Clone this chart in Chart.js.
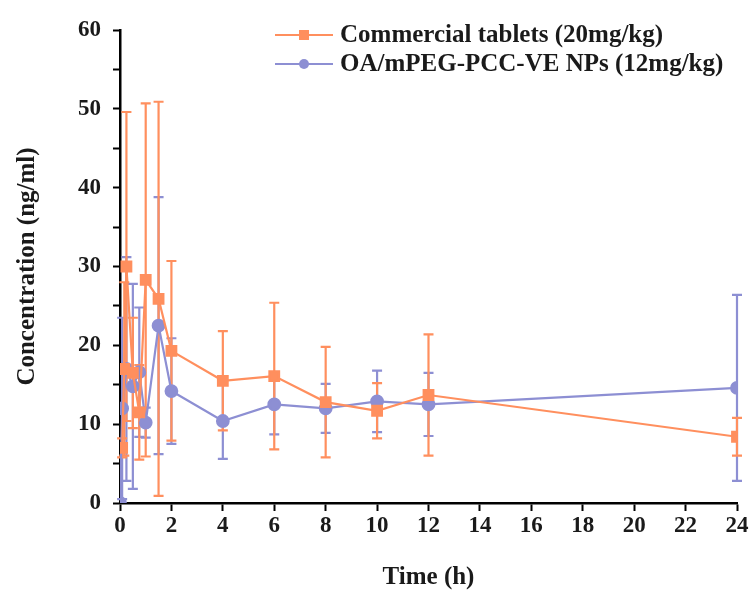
<!DOCTYPE html>
<html>
<head>
<meta charset="utf-8">
<title>Concentration vs time</title>
<script src="https://cdn.jsdelivr.net/npm/chart.js@4.4.0/dist/chart.umd.min.js"></script>
<style>
  html, body { margin: 0; padding: 0; background: #fff; }
  #wrap { width: 756px; height: 590px; }
</style>
</head>
<body>
<div id="wrap"><canvas id="myChart" width="756" height="590"></canvas></div>
<script>
// data (time in h, concentration in ng/ml, +/- SD)
const tabletLabel = 'Commercial tablets (20mg/kg)';
const tabletTime = [0.083, 0.167, 0.25, 0.5, 0.75, 1, 1.5, 2, 4, 6, 8, 10, 12, 24];
const tabletMean = [7.0, 17.0, 30.0, 16.5, 11.5, 28.3, 25.9, 19.3, 15.5, 16.1, 12.8, 11.7, 13.7, 8.4];
const tabletSD   = [1.2, 11.0, 19.6, 7.0, 6.0, 22.4, 25.0, 11.4, 6.3, 9.3, 7.0, 3.5, 7.7, 2.4];

const npLabel = 'OA/mPEG-PCC-VE NPs (12mg/kg)';
const npTime = [0, 0.083, 0.25, 0.5, 0.75, 1, 1.5, 2, 4, 6, 8, 10, 12, 24];
const npMean = [0, 12.0, 17.0, 14.8, 16.6, 10.2, 22.5, 14.2, 10.4, 12.5, 12.0, 12.9, 12.5, 14.6];
const npSD   = [0, 11.5, 14.2, 13.0, 8.2, 1.9, 16.3, 6.7, 4.8, 3.8, 3.1, 3.9, 4.0, 11.8];

const orange = '#ff8f5e';
const purple = '#8d8fd3';
const fontFam = "'Liberation Serif', 'Times New Roman', serif";

function pairs(t, v) {
  let out = [];
  for (let i = 0; i < t.length; i++) out.push({ x: t[i], y: v[i] });
  return out;
}

// error bars, drawn under the lines and markers
const errorBars = {
  id: 'errorBars',
  beforeDatasetsDraw(chart) {
    const ctx = chart.ctx;
    const xs = chart.scales.x, ys = chart.scales.y;
    for (let d = chart.data.datasets.length - 1; d >= 0; d--) {
      const ds = chart.data.datasets[d];
      ctx.save();
      ctx.strokeStyle = ds.borderColor;
      ctx.lineWidth = 2.2;
      ds.data.forEach((p, i) => {
        const sd = ds.sd[i];
        if (!sd) return;
        const px = xs.getPixelForValue(p.x);
        const top = ys.getPixelForValue(p.y + sd);
        const bot = ys.getPixelForValue(Math.max(p.y - sd, 0));
        ctx.beginPath();
        ctx.moveTo(px, top); ctx.lineTo(px, bot);
        ctx.moveTo(px - 5, top); ctx.lineTo(px + 5, top);
        ctx.moveTo(px - 5, bot); ctx.lineTo(px + 5, bot);
        ctx.stroke();
      });
      ctx.restore();
    }
  }
};

// legend: line with marker, then the label
const lineLegend = {
  id: 'lineLegend',
  afterDraw(chart) {
    const ctx = chart.ctx;
    chart.data.datasets.forEach((ds, i) => {
      const y = 35 + i * 29;
      ctx.save();
      ctx.strokeStyle = ds.borderColor;
      ctx.lineWidth = 2;
      ctx.beginPath();
      ctx.moveTo(275, y); ctx.lineTo(333, y);
      ctx.stroke();
      ctx.fillStyle = ds.borderColor;
      if (ds.pointStyle === 'rect') {
        ctx.fillRect(299, y - 5, 10, 10);
      } else {
        ctx.beginPath(); ctx.arc(304, y, 5, 0, Math.PI * 2); ctx.fill();
      }
      ctx.fillStyle = '#1a1a1a';
      ctx.font = 'bold 25px ' + fontFam;
      ctx.textBaseline = 'middle';
      ctx.fillText(ds.label, 340, y + 1);
      ctx.restore();
    });
  }
};

const ctx = document.getElementById('myChart').getContext('2d');
const chart = new Chart(ctx, {
  type: 'line',
  data: {
    datasets: [{
      label: tabletLabel,
      data: pairs(tabletTime, tabletMean),
      sd: tabletSD,
      borderColor: orange,
      backgroundColor: orange,
      borderWidth: 2.2,
      pointStyle: 'rect',
      pointRadius: 6.8,
      pointHoverRadius: 6.8,
      tension: 0
    },
    {
      label: npLabel,
      data: pairs(npTime, npMean),
      sd: npSD,
      borderColor: purple,
      backgroundColor: purple,
      borderWidth: 2.2,
      pointStyle: 'circle',
      pointRadius: 5.8,
      pointHoverRadius: 5.8,
      tension: 0
    }]
  },
  options: {
    responsive: false,
    animation: false,
    layout: { padding: { top: 30, right: 19, left: 0, bottom: 0 } },
    plugins: {
      legend: { display: false },
      tooltip: { enabled: false }
    },
    scales: {
      x: {
        type: 'linear',
        min: 0,
        max: 24,
        ticks: { stepSize: 2, color: '#1a1a1a', padding: 1, font: { family: fontFam, size: 23, weight: 'bold' } },
        grid: { drawOnChartArea: false, drawTicks: true, tickLength: 8, tickColor: '#000', tickWidth: 2 },
        border: { display: true, color: '#000', width: 2.5 },
        title: { display: true, text: 'Time (h)', color: '#1a1a1a', padding: { top: 8, bottom: 0 },
                 font: { family: fontFam, size: 25, weight: 'bold', lineHeight: 1 } },
        afterFit(scale) { scale.height = 87; }
      },
      y: {
        min: 0,
        max: 60,
        ticks: {
          stepSize: 5,
          color: '#1a1a1a',
          padding: 12,
          font: { family: fontFam, size: 23, weight: 'bold' },
          callback: v => (v % 10 === 0 ? v : '')
        },
        grid: { drawOnChartArea: false, drawTicks: true, tickLength: 7, tickColor: '#000', tickWidth: 2 },
        border: { display: true, color: '#000', width: 2.5 },
        title: { display: true, text: 'Concentration (ng/ml)', color: '#1a1a1a', padding: { top: 15, bottom: 4 },
                 font: { family: fontFam, size: 25, weight: 'bold', lineHeight: 1 } },
        afterFit(scale) { scale.width = 120; }
      }
    }
  },
  plugins: [errorBars, lineLegend]
});
</script>
</body>
</html>
